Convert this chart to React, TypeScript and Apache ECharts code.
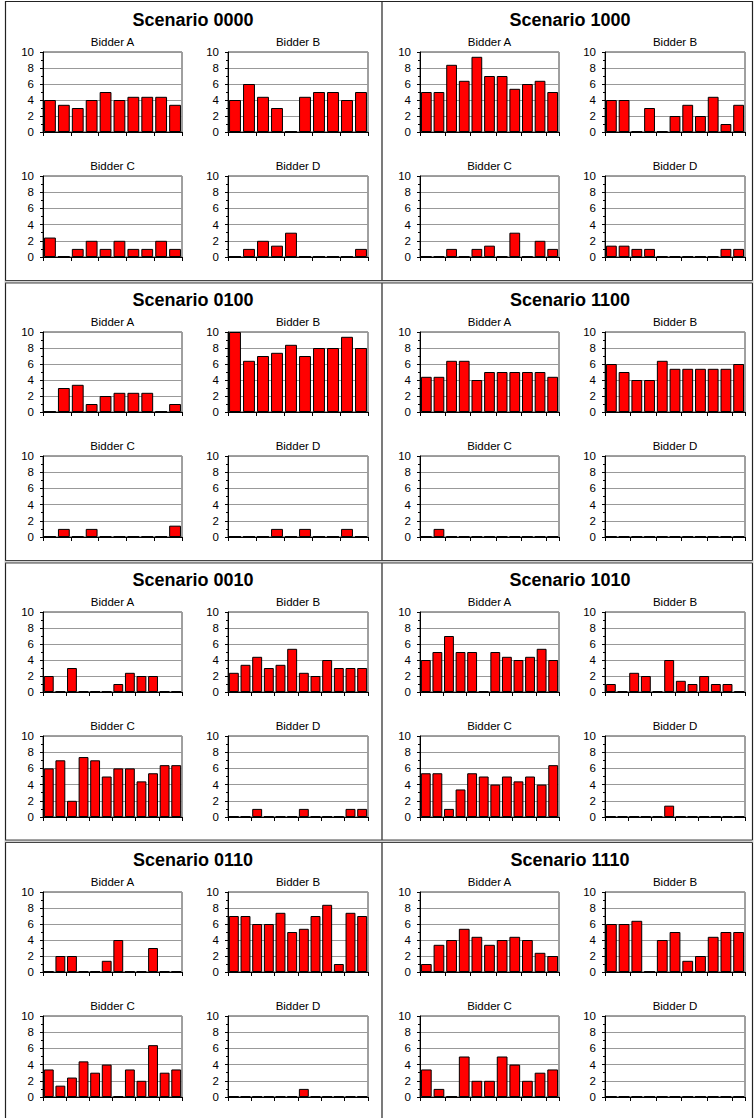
import React, { useEffect, useRef } from "react";
import * as echarts from "echarts";

const scenarioNames = [
  "Scenario 0000", "Scenario 1000",
  "Scenario 0100", "Scenario 1100",
  "Scenario 0010", "Scenario 1010",
  "Scenario 0110", "Scenario 1110",
];
const bidderNames = ["Bidder A", "Bidder B", "Bidder C", "Bidder D"];
const yTicks = [0, 2, 4, 6, 8, 10];

const s0000A = [4, 3.4, 3, 4, 5, 4, 4.4, 4.4, 4.4, 3.4];
const s0000B = [4, 6, 4.4, 3, 0, 4.4, 5, 5, 4, 5];
const s0000C = [2.4, 0, 1, 2, 1, 2, 1, 1, 2, 1];
const s0000D = [0, 1, 2, 1.4, 3, 0, 0, 0, 0, 1];

const s1000A = [5, 5, 8.4, 6.4, 9.4, 7, 7, 5.4, 6, 6.4, 5];
const s1000B = [4, 4, 0, 3, 0, 2, 3.4, 2, 4.4, 1, 3.4];
const s1000C = [0, 0, 1, 0, 1, 1.4, 0, 3, 0, 2, 1];
const s1000D = [1.4, 1.4, 1, 1, 0, 0, 0, 0, 0, 1, 1];

const s0100A = [0, 3, 3.4, 1, 2, 2.4, 2.4, 2.4, 0, 1];
const s0100B = [10, 6.4, 7, 7.4, 8.4, 7, 8, 8, 9.4, 8];
const s0100C = [0, 1, 0, 1, 0, 0, 0, 0, 0, 1.4];
const s0100D = [0, 0, 0, 1, 0, 1, 0, 0, 1, 0];

const s1100A = [4.4, 4.4, 6.4, 6.4, 4, 5, 5, 5, 5, 5, 4.4];
const s1100B = [6, 5, 4, 4, 6.4, 5.4, 5.4, 5.4, 5.4, 5.4, 6];
const s1100C = [0, 1, 0, 0, 0, 0, 0, 0, 0, 0, 0];
const s1100D = [0, 0, 0, 0, 0, 0, 0, 0, 0, 0, 0];

const s0010A = [2, 0, 3, 0, 0, 0, 1, 2.4, 2, 2, 0, 0];
const s0010B = [2.4, 3.4, 4.4, 3, 3.4, 5.4, 2.4, 2, 4, 3, 3, 3];
const s0010C = [6, 7, 2, 7.4, 7, 5, 6, 6, 4.4, 5.4, 6.4, 6.4];
const s0010D = [0, 0, 1, 0, 0, 0, 1, 0, 0, 0, 1, 1];

const s1010A = [4, 5, 7, 5, 5, 0, 5, 4.4, 4, 4.4, 5.4, 4];
const s1010B = [1, 0, 2.4, 2, 0, 4, 1.4, 1, 2, 1, 1, 0];
const s1010C = [5.4, 5.4, 1, 3.4, 5.4, 5, 4, 5, 4.4, 5, 4, 6.4];
const s1010D = [0, 0, 0, 0, 0, 1.4, 0, 0, 0, 0, 0, 0];

const s0110A = [0, 2, 2, 0, 0, 1.4, 4, 0, 0, 3, 0, 0];
const s0110B = [7, 7, 6, 6, 7.4, 5, 5.4, 7, 8.4, 1, 7.4, 7];
const s0110C = [3.4, 1.4, 2.4, 4.4, 3, 4, 0, 3.4, 2, 6.4, 3, 3.4];
const s0110D = [0, 0, 0, 0, 0, 0, 1, 0, 0, 0, 0, 0];

const s1110A = [1, 3.4, 4, 5.4, 4.4, 3.4, 4, 4.4, 4, 2.4, 2];
const s1110B = [6, 6, 6.4, 0, 4, 5, 1.4, 2, 4.4, 5, 5];
const s1110C = [3.4, 1, 0, 5, 2, 2, 5, 4, 2, 3, 3.4];
const s1110D = [0, 0, 0, 0, 0, 0, 0, 0, 0, 0, 0];

const scenarios = [
  [s0000A, s0000B, s0000C, s0000D],
  [s1000A, s1000B, s1000C, s1000D],
  [s0100A, s0100B, s0100C, s0100D],
  [s1100A, s1100B, s1100C, s1100D],
  [s0010A, s0010B, s0010C, s0010D],
  [s1010A, s1010B, s1010C, s1010D],
  [s0110A, s0110B, s0110C, s0110D],
  [s1110A, s1110B, s1110C, s1110D],
];

const FONT = 'Arial, "Liberation Sans", Helvetica, sans-serif';
const W = 755;
const H = 1118;
const colX = [0, 377];
const rowY = [0, 280, 560, 840];
const subX = [[43, 182], [228, 368]];
const subY = [[52, 132], [176, 257]];

function textEl(x: number, y: number, text: string, font: string) {
  return {
    type: "text",
    x,
    y,
    silent: true,
    style: {
      text,
      font,
      fill: "#000",
      textAlign: "center",
      textVerticalAlign: "middle",
      align: "center",
      verticalAlign: "middle",
    },
  };
}

function lineEl(x1: number, y1: number, x2: number, y2: number, color: string, width: number) {
  return {
    type: "line",
    silent: true,
    shape: { x1, y1, x2, y2 },
    style: { stroke: color, lineWidth: width },
  };
}

function buildOption() {
  const grid: any[] = [];
  const xAxis: any[] = [];
  const yAxis: any[] = [];
  const series: any[] = [];
  const graphic: any[] = [];

  // panel borders
  graphic.push(lineEl(5, 1.5, 752.5, 1.5, "#222", 1.2));
  graphic.push(lineEl(5.5, 1, 5.5, H, "#222", 1.2));
  graphic.push(lineEl(382, 1, 382, H, "#222", 1.2));
  graphic.push(lineEl(752.5, 1, 752.5, H, "#222", 1.2));
  [280.5, 560.5, 840].forEach((y) => {
    graphic.push({
      type: "rect",
      silent: true,
      shape: { x: 5, y, width: 748, height: 2.5 },
      style: { fill: "#d0d0d0" },
    });
    graphic.push(lineEl(5, y, 752.5, y, "#444", 1));
    graphic.push(lineEl(5, y + 2.5, 752.5, y + 2.5, "#444", 1));
  });

  scenarios.forEach((sc, si) => {
    const ox = colX[si % 2];
    const oy = rowY[Math.floor(si / 2)];
    graphic.push(textEl(ox + 193, oy + 20, scenarioNames[si], `bold 18px ${FONT}`));
    sc.forEach((vals, bi) => {
      const c = bi % 2;
      const r = Math.floor(bi / 2);
      const x0 = ox + subX[c][0];
      const x1 = ox + subX[c][1];
      const y0 = oy + subY[r][0];
      const y1 = oy + subY[r][1];
      const idx = grid.length;
      graphic.push(textEl((x0 + x1) / 2, y0 - 10.5, bidderNames[bi], `11.5px ${FONT}`));
      grid.push({
        left: x0,
        top: y0,
        width: x1 - x0,
        height: y1 - y0,
        show: true,
        borderColor: "#404040",
        borderWidth: 1,
        backgroundColor: "#fff",
        containLabel: false,
        outerBoundsMode: "none",
      });
      xAxis.push({
        gridIndex: idx,
        type: "category",
        data: vals.map((_, i) => String(i + 1)),
        boundaryGap: true,
        axisLine: { show: true, onZero: false, lineStyle: { color: "#000", width: 1 } },
        axisTick: { show: true, length: 4, alignWithLabel: false, lineStyle: { color: "#000" } },
        axisLabel: { show: false },
        splitLine: { show: false },
      });
      yAxis.push({
        gridIndex: idx,
        type: "value",
        min: yTicks[0],
        max: yTicks[yTicks.length - 1],
        interval: 2,
        axisLine: { show: true, lineStyle: { color: "#000", width: 1 } },
        axisTick: { show: true, length: 3, lineStyle: { color: "#000" } },
        minorTick: { show: true, splitNumber: 2, length: 2, lineStyle: { color: "#000" } },
        axisLabel: { show: true, margin: 9, fontSize: 11.5, color: "#000", fontFamily: FONT },
        splitLine: { show: true, lineStyle: { color: "#999", width: 1 } },
      });
      series.push({
        type: "bar",
        name: `${scenarioNames[si]} ${bidderNames[bi]}`,
        xAxisIndex: idx,
        yAxisIndex: idx,
        data: vals.map((v) => (v === 0 ? { value: v, itemStyle: { borderWidth: 2 } } : v)),
        barCategoryGap: "15%",
        silent: true,
        itemStyle: { color: "#ff0000", borderColor: "#000", borderWidth: 1 },
      });
    });
  });

  return {
    animation: false,
    backgroundColor: "#fff",
    textStyle: { fontFamily: FONT },
    grid,
    xAxis,
    yAxis,
    series,
    graphic,
  };
}

export default function App() {
  const ref = useRef<HTMLDivElement>(null);
  useEffect(() => {
    document.body.style.margin = "0";
    if (!ref.current) return;
    const chart = echarts.init(ref.current, undefined, { renderer: "svg", width: W, height: H });
    chart.setOption(buildOption() as any);
    return () => chart.dispose();
  }, []);
  return <div ref={ref} style={{ width: W, height: H }} />;
}
